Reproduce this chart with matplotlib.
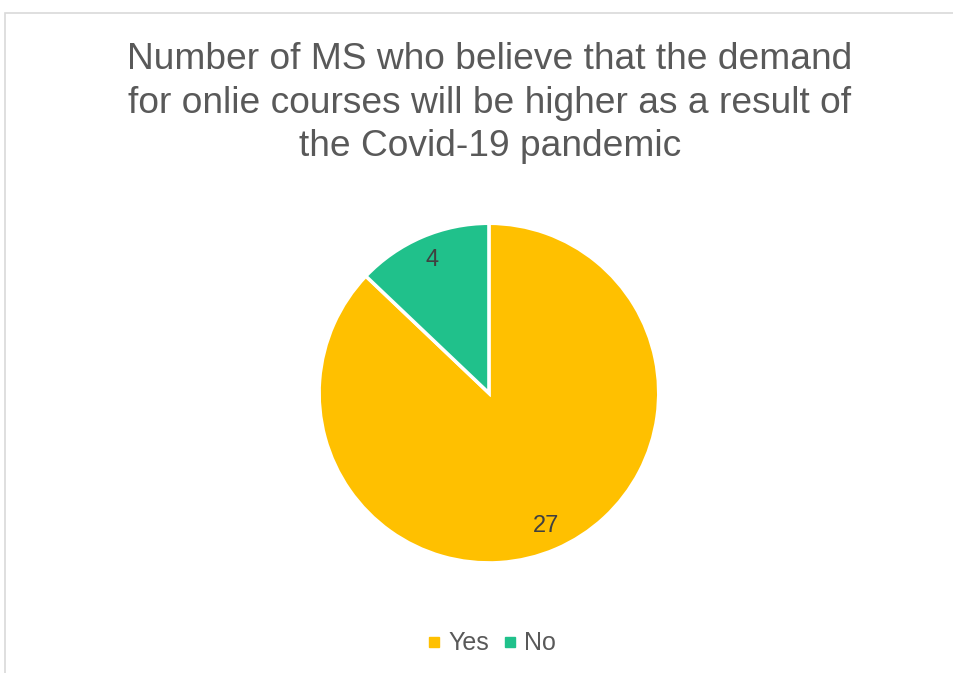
import matplotlib.pyplot as plt
from matplotlib.patches import Rectangle
from matplotlib.lines import Line2D

plt.rcParams['font.family'] = ['Liberation Sans', 'DejaVu Sans']

# data
labels = ['Yes', 'No']
values = [27, 4]
colors = ['#FFC000', '#20C18B']
title = 'Number of MS who believe that the demand\nfor onlie courses will be higher as a result of\nthe Covid-19 pandemic'

fig = plt.figure(figsize=(9.54, 6.73), dpi=100)

# chart area border (runs off the right/bottom edge)
fig.patches.append(Rectangle((5.5 / 954, -0.1), 1.2, 0.9814 + 0.1, transform=fig.transFigure,
                             fill=False, edgecolor='#D9D9D9', linewidth=1.2))

fig.text(0.5135, 0.8465, title, ha='center', va='center', fontsize=26.7,
         color='#595959', linespacing=1.31)

ax = fig.add_axes([0.3345, 0.1634, 0.356, 0.505])
wedges, texts = ax.pie(values, colors=colors, startangle=90, counterclock=False,
                       labels=[str(v) for v in values], labeldistance=0.85,
                       wedgeprops=dict(edgecolor='white', linewidth=2.5),
                       textprops=dict(fontsize=17, color='#404040'))
for t in texts:
    t.set_ha('center')
ax.set_xlim(-1, 1)
ax.set_ylim(-1, 1)
ax.set_aspect('equal')

handles = [Line2D([], [], marker='s', linestyle='none', markersize=6.5,
                  markerfacecolor=c, markeredgecolor=c) for c in colors]
fig.legend(handles, labels, loc='center', bbox_to_anchor=(0.5125, 0.044), ncol=2,
           frameon=False, fontsize=18, handletextpad=0.05, columnspacing=0.35,
           labelcolor='#595959', handlelength=1.0)

fig.savefig('out.png', dpi=100)
